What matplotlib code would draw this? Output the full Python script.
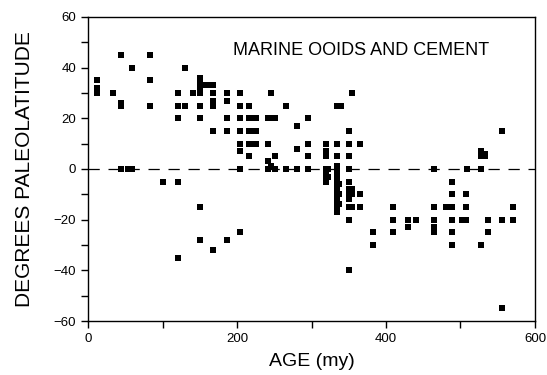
import matplotlib
matplotlib.use("Agg")
import matplotlib.pyplot as plt
from matplotlib.ticker import MultipleLocator

plt.rcParams['font.family'] = ['Liberation Sans', 'DejaVu Sans']

# age (my) and paleolatitude (degrees)
age = [12, 12, 12, 34, 44, 44, 44, 44, 53, 59, 59, 83, 83, 83, 101,
       121, 121, 121, 121, 121, 130, 130, 141,
       150, 150, 150, 150, 150, 150, 150, 150, 156, 162,
       168, 168, 168, 168, 168, 168, 186, 186, 186, 186, 186,
       204, 204, 204, 204, 204, 204, 204, 204,
       216, 216, 216, 216, 216, 220, 220, 220, 226, 226, 226,
       241, 241, 241, 241, 246, 246, 246, 251, 251, 251, 266, 266,
       281, 281, 281, 295, 295, 295, 295,
       320, 320, 320, 320, 320, 320, 320, 322, 322,
       334, 334, 334, 334, 334, 334, 334, 334, 334, 334, 334, 334, 334,
       337, 337, 337, 340,
       350, 350, 350, 350, 350, 350, 350, 350, 350, 350, 350,
       354, 354, 354, 354, 365, 365, 365, 383, 383,
       409, 409, 409, 429, 429, 440,
       464, 464, 464, 464, 464, 480,
       488, 488, 488, 488, 488, 488, 502, 507, 507, 507, 509,
       528, 528, 528, 528, 533, 533, 537, 537,
       556, 556, 556, 570, 570]
lat = [35, 32, 30, 30, 45, 26, 25, 0, 0, 40, 0, 45, 35, 25, -5,
       30, 25, 20, -5, -35, 40, 25, 30,
       36, 34, 32, 30, 25, 20, -15, -28, 33, 33,
       33, 30, 27, 25, 15, -32, 30, 27, 20, 15, -28,
       30, 25, 20, 15, 10, 7, 0, -25,
       25, 20, 15, 10, 5, 20, 15, 10, 20, 15, 10,
       20, 10, 3, 0, 30, 20, 1, 20, 5, 0, 25, 0,
       17, 8, 0, 20, 10, 5, 0,
       10, 7, 5, 0, -2, -4, -5, 0, -3,
       25, 10, 5, 1, -1, -3, -5, -7, -9, -11, -13, -15, -17,
       -6, -10, -14, 25,
       15, 10, 5, 0, -5, -8, -10, -12, -15, -20, -40,
       30, -10, -15, -8, 10, -10, -15, -25, -30,
       -15, -20, -25, -20, -23, -20,
       0, -15, -20, -23, -25, -15,
       -5, -10, -15, -20, -25, -30, -20, -10, -15, -20, 0,
       7, 5, 0, -30, 6, 5, -20, -25,
       15, -20, -55, -15, -20]

fig = plt.figure(figsize=(5.47, 3.75), dpi=100)
ax = fig.add_axes([0.161, 0.144, 0.817, 0.811])

ax.axhline(0, color='black', lw=0.9, dashes=(9, 7), zorder=1)
ax.scatter(age, lat, marker='s', s=22, color='black', linewidths=0, zorder=2)

ax.set_xlim(0, 600)
ax.set_ylim(-60, 60)
ax.xaxis.set_major_locator(MultipleLocator(200))
ax.xaxis.set_minor_locator(MultipleLocator(100))
ax.yaxis.set_major_locator(MultipleLocator(20))
ax.yaxis.set_minor_locator(MultipleLocator(10))
ax.tick_params(which='both', direction='out', length=5, width=1,
               labelsize=9.5, top=False, right=False)
for sp in ax.spines.values():
    sp.set_linewidth(1)

ax.set_xlabel('AGE (my)', fontsize=14, labelpad=6)
ax.set_ylabel('DEGREES PALEOLATITUDE', fontsize=15, labelpad=14)
ax.text(0.61, 0.891, 'MARINE OOIDS AND CEMENT', transform=ax.transAxes,
        ha='center', va='center', fontsize=13)

fig.savefig('out.png', dpi=100)
